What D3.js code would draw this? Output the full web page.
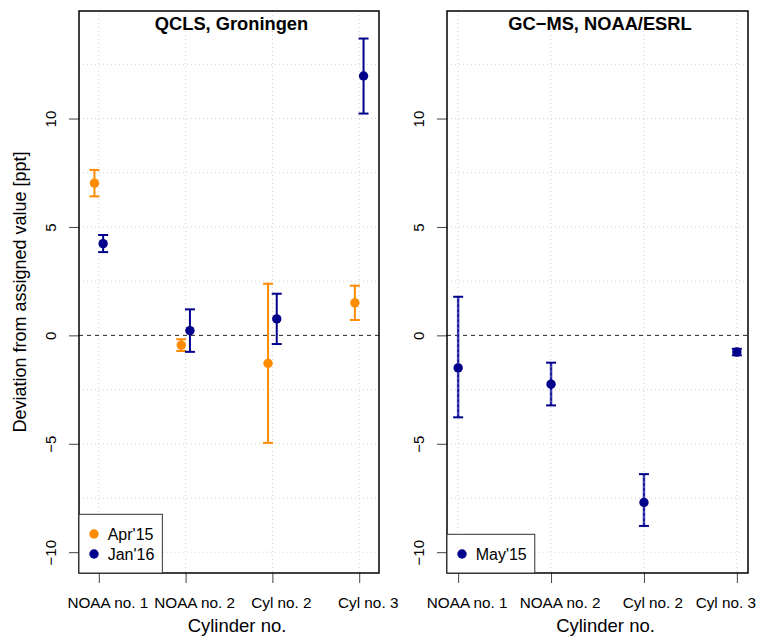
<!DOCTYPE html>
<html>
<head>
<meta charset="utf-8">
<script src="https://cdn.jsdelivr.net/npm/d3@7"></script>
<style>
  body { margin: 0; background: #fff; }
  text { font-family: "Liberation Sans", Arial, Helvetica, sans-serif; }
</style>
</head>
<body>
<div id="chart"></div>
<script>
// Data
var cylinders = ["NOAA no. 1", "NOAA no. 2", "Cyl no. 2", "Cyl no. 3"];
var yTicks = [-10, -5, 0, 5, 10];
var yGrid = [-10, -7.5, -5, -2.5, 2.5, 5, 7.5, 10, 12.5];

// QCLS, Groningen
var apr15Mean = [7.02, -0.45, -1.29, 1.50];
var apr15Lo   = [6.41, -0.72, -4.96, 0.71];
var apr15Hi   = [7.63, -0.18, 2.38, 2.29];
var jan16Mean = [4.23, 0.22, 0.76, 11.96];
var jan16Lo   = [3.84, -0.76, -0.40, 10.23];
var jan16Hi   = [4.63, 1.20, 1.92, 13.69];

// GC-MS, NOAA/ESRL
var may15Mean = [-1.50, -2.25, -7.71, -0.77];
var may15Lo   = [-3.78, -3.23, -8.79, -0.92];
var may15Hi   = [1.78, -1.26, -6.40, -0.62];

var width = 759, height = 639
var orange = "#FF8C00", navy = "#00008B"

var svg = d3.select("#chart")
    .append("svg")
    .attr("width", width)
    .attr("height", height)

// shared y scale (ylim -10..14 with R's 4% padding)
var y = d3.scaleLinear().domain([-10.96, 14.96]).range([573, 11]);

function panel(opts) {
    var x = d3.scaleLinear().domain(opts.xdom).range([opts.left, opts.right]);
    var g = svg.append("g");

    // grid
    g.selectAll(".hgrid").data(yGrid).enter().append("line")
        .attr("x1", opts.left).attr("x2", opts.right)
        .attr("y1", function(d) { return y(d); })
        .attr("y2", function(d) { return y(d); })
        .style("stroke", "#d3d3d3").style("stroke-dasharray", "1,3");
    g.selectAll(".vgrid").data([1, 2, 3, 4]).enter().append("line")
        .attr("x1", function(d) { return x(d); })
        .attr("x2", function(d) { return x(d); })
        .attr("y1", 11).attr("y2", 573)
        .style("stroke", "#d3d3d3").style("stroke-dasharray", "1,3");

    // zero line
    g.append("line")
        .attr("x1", opts.left).attr("x2", opts.right)
        .attr("y1", y(0)).attr("y2", y(0))
        .style("stroke", "#222").style("stroke-dasharray", "4,4");

    // y axis
    var ya = g.append("g")
        .attr("transform", "translate(" + opts.left + ",0)")
        .call(d3.axisLeft(y).tickValues(yTicks).tickSize(10).tickFormat(function(d) { return d < 0 ? "\u2212" + Math.abs(d) : d; }));
    ya.select(".domain").remove();
    ya.selectAll("line").style("stroke", "#444");
    ya.selectAll("text")
        .attr("x", null).attr("dy", null)
        .attr("text-anchor", "middle")
        .attr("transform", "translate(-23.5,0) rotate(-90)")
        .style("font-size", "15px").style("fill", "#000");

    // x axis
    var xa = g.append("g")
        .attr("transform", "translate(0,573)")
        .call(d3.axisBottom(x).tickValues([1, 2, 3, 4]).tickSize(10).tickFormat(function(d) { return cylinders[d - 1]; }));
    xa.select(".domain").remove();
    xa.selectAll("line").style("stroke", "#444");
    xa.selectAll("text")
        .attr("dy", null).attr("y", 35).attr("x", 8.5)
        .style("font-size", "15.3px").style("fill", "#000")
        .each(function() {
            // keep the last label inside the page
            var t = d3.select(this);
            var w = this.getComputedTextLength();
            var tx = +this.parentNode.getAttribute("transform").match(/translate\(([-\d.]+)/)[1];
            if (tx + 8.5 + w / 2 > width - 3) t.attr("x", width - 3 - w / 2 - tx);
        });

    // series
    opts.series.forEach(function(s) {
        var sg = g.append("g");
        cylinders.forEach(function(c, i) {
            var cx = x(i + 1 + s.offset);
            if (s.textured) {
                sg.append("line").attr("x1", cx).attr("x2", cx)
                    .attr("y1", y(s.lo[i])).attr("y2", y(s.hi[i]))
                    .style("stroke", "#4a4ab8").style("stroke-width", 2.5);
                sg.append("line").attr("x1", cx).attr("x2", cx)
                    .attr("y1", y(s.lo[i])).attr("y2", y(s.hi[i]))
                    .style("stroke", s.color).style("stroke-width", 1.2).style("stroke-dasharray", "3,2");
            } else {
                sg.append("line").attr("x1", cx).attr("x2", cx)
                    .attr("y1", y(s.lo[i])).attr("y2", y(s.hi[i]))
                    .style("stroke", s.color).style("stroke-width", 2);
            }
            [s.lo[i], s.hi[i]].forEach(function(v) {
                sg.append("line").attr("x1", cx - 5).attr("x2", cx + 5)
                    .attr("y1", y(v)).attr("y2", y(v))
                    .style("stroke", s.color).style("stroke-width", 2);
            });
            sg.append("circle").attr("cx", cx).attr("cy", y(s.mean[i])).attr("r", 4.7)
                .style("fill", s.color);
        });
    });

    // box
    g.append("rect")
        .attr("x", opts.left).attr("y", 11)
        .attr("width", opts.right - opts.left).attr("height", 562)
        .style("fill", "none").style("stroke", "#000").style("stroke-width", 1.5);

    // title
    g.append("text")
        .attr("x", (opts.left + opts.right) / 2 + 2.5).attr("y", 30)
        .attr("text-anchor", "middle")
        .style("font-size", "18.3px").style("font-weight", "bold")
        .text(opts.title);

    // x label
    g.append("text")
        .attr("x", (opts.left + opts.right) / 2 + 8).attr("y", 632)
        .attr("text-anchor", "middle")
        .style("font-size", "18.5px")
        .text("Cylinder no.");

    // legend
    var n = opts.series.length;
    var lg = g.append("g");
    var box = lg.append("rect")
        .attr("x", opts.left).attr("y", 573 - (20 * n + 18.7))
        .attr("height", 20 * n + 18.7)
        .style("fill", "#fff").style("stroke", "#333").style("stroke-width", 1);
    var maxW = 0;
    opts.series.forEach(function(s, i) {
        var ry = 573 - (20 * n + 18.7) + 19.7 + 20 * i;
        lg.append("circle").attr("cx", opts.left + 15).attr("cy", ry).attr("r", 4.7).style("fill", s.color);
        var t = lg.append("text").attr("x", opts.left + 28.7).attr("y", ry + 5.5)
            .style("font-size", "16px").text(s.name);
        maxW = Math.max(maxW, t.node().getComputedTextLength());
    });
    box.attr("width", 28.7 + maxW + 8);
}

panel({
    left: 79, right: 379, xdom: [0.772, 4.228],
    title: "QCLS, Groningen",
    series: [
        { name: "Apr'15", color: orange, mean: apr15Mean, lo: apr15Lo, hi: apr15Hi, offset: -0.05 },
        { name: "Jan'16", color: navy, mean: jan16Mean, lo: jan16Lo, hi: jan16Hi, offset: 0.05 }
    ]
});

panel({
    left: 447, right: 748, xdom: [0.88, 4.12],
    title: "GC\u2212MS, NOAA/ESRL",
    series: [
        { name: "May'15", color: navy, mean: may15Mean, lo: may15Lo, hi: may15Hi, offset: 0, textured: true }
    ]
});

// y axis label
svg.append("text")
    .attr("transform", "translate(26,292) rotate(-90)")
    .attr("text-anchor", "middle")
    .style("font-size", "18px")
    .text("Deviation from assigned value [ppt]");
</script>
</body>
</html>
